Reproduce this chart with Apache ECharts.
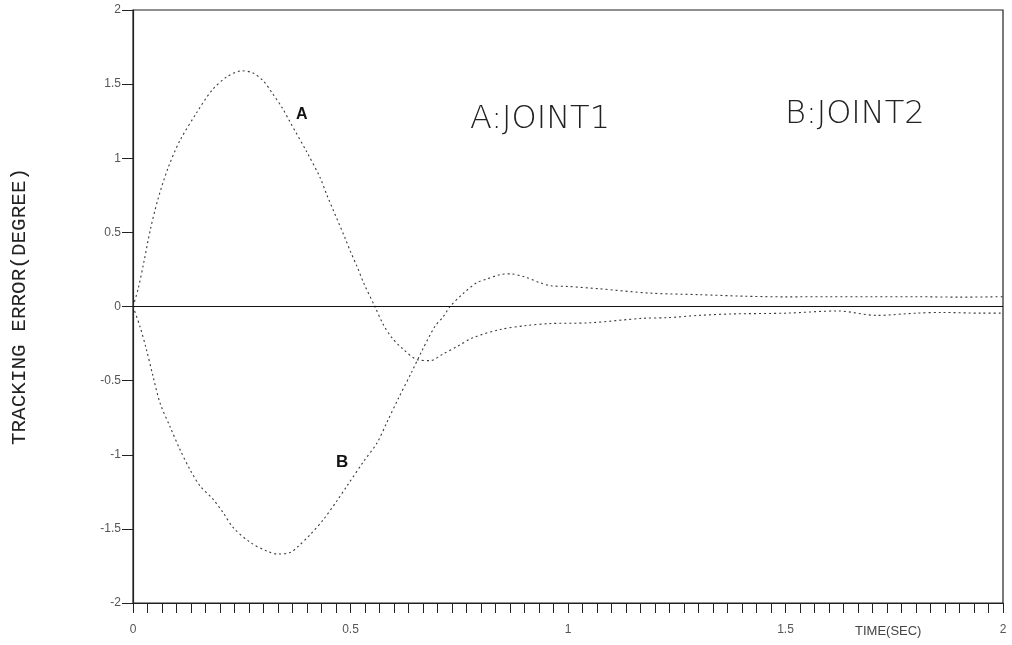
<!DOCTYPE html>
<html>
<head>
<meta charset="utf-8">
<script src="https://cdn.jsdelivr.net/npm/echarts@6/dist/echarts.min.js"></script>
<style>
html,body{margin:0;padding:0;background:#fff;}
#chart{width:1012px;height:645px;}
</style>
</head>
<body>
<div id="chart"></div>
<script>
// joint 1 tracking error (curve A)
var timeA = [0, 0.012, 0.025, 0.04, 0.057, 0.08, 0.108, 0.147, 0.182, 0.216, 0.25, 0.276, 0.30, 0.32, 0.343, 0.36, 0.40, 0.43, 0.446, 0.487, 0.50, 0.515, 0.53, 0.556, 0.575, 0.595, 0.618, 0.655, 0.683, 0.713, 0.745, 0.782, 0.844, 0.90, 0.96, 1.05, 1.17, 1.23, 1.3, 1.38, 1.5, 1.62, 1.71, 1.8, 1.86, 1.95, 2.0];
var errA = [0, 0.12, 0.3, 0.52, 0.72, 0.93, 1.12, 1.31, 1.46, 1.55, 1.59, 1.575, 1.52, 1.44, 1.34, 1.25, 1.04, 0.87, 0.75, 0.465, 0.37, 0.27, 0.16, 0, -0.12, -0.21, -0.28, -0.36, -0.365, -0.32, -0.27, -0.21, -0.155, -0.13, -0.115, -0.11, -0.08, -0.075, -0.06, -0.05, -0.045, -0.03, -0.06, -0.045, -0.04, -0.045, -0.045];
// joint 2 tracking error (curve B)
var timeB = [0, 0.016, 0.03, 0.046, 0.062, 0.085, 0.108, 0.131, 0.154, 0.184, 0.207, 0.23, 0.269, 0.308, 0.333, 0.361, 0.379, 0.407, 0.437, 0.469, 0.492, 0.529, 0.561, 0.584, 0.61, 0.641, 0.664, 0.694, 0.713, 0.729, 0.76, 0.79, 0.813, 0.844, 0.867, 0.90, 0.936, 0.96, 1.0, 1.07, 1.19, 1.3, 1.4, 1.5, 1.6, 1.7, 1.8, 1.9, 2.0];
var errB = [0, -0.135, -0.28, -0.47, -0.65, -0.81, -0.965, -1.1, -1.21, -1.30, -1.39, -1.49, -1.59, -1.65, -1.67, -1.66, -1.62, -1.54, -1.44, -1.31, -1.21, -1.05, -0.92, -0.78, -0.62, -0.44, -0.30, -0.135, -0.07, 0, 0.09, 0.16, 0.185, 0.215, 0.22, 0.2, 0.16, 0.14, 0.135, 0.12, 0.09, 0.08, 0.07, 0.065, 0.066, 0.066, 0.066, 0.063, 0.066];

var pairs = function(xs, ys){
    var out = [];
    for (var i = 0; i < xs.length; i++) out.push([xs[i], ys[i]]);
    return out;
};

var chart = echarts.init(document.getElementById('chart'));
var lineStyle = {color:'#3a3a3a', width:1.1, type:[2,3]};
var option = {
    animation:false,
    grid:{left:133, right:9, top:10, bottom:42, show:true, borderColor:'#222', borderWidth:1.2},
    xAxis:{
        type:'value', min:0, max:2, interval:0.5,
        axisLine:{onZero:false, lineStyle:{color:'#222', width:1.2}},
        axisTick:{show:true, inside:false, length:10, lineStyle:{color:'#222'}},
        minorTick:{show:true, splitNumber:15, length:10, lineStyle:{color:'#222'}},
        splitLine:{show:false},
        axisLabel:{color:'#555', fontSize:12, fontFamily:'Liberation Sans', margin:21,
            formatter:function(v){ return v === 0 ? '0' : String(v); }}
    },
    yAxis:{
        type:'value', min:-2, max:2, interval:0.5,
        name:'TRACKING ERROR(DEGREE)', nameLocation:'middle', nameGap:103, nameRotate:90,
        nameTextStyle:{fontFamily:'Liberation Mono', fontSize:21, color:'#222'},
        axisLine:{lineStyle:{color:'#222', width:1.2}},
        axisTick:{show:true, length:11, lineStyle:{color:'#222'}},
        splitLine:{show:false},
        axisLabel:{color:'#555', fontSize:12, fontFamily:'Liberation Sans', margin:12}
    },
    series:[
        {name:'A', type:'line', data:pairs(timeA, errA), showSymbol:false, smooth:0.3, lineStyle:lineStyle,
         markLine:{silent:true, symbol:'none', label:{show:false}, lineStyle:{color:'#111', type:'solid', width:1.2},
                   data:[{yAxis:0}]}},
        {name:'B', type:'line', data:pairs(timeB, errB), showSymbol:false, smooth:0.3, lineStyle:lineStyle}
    ],
    graphic:[
        {type:'text', left:296, top:107, style:{text:'A', font:'bold 16px "Liberation Sans"', fill:'#111'}},
        {type:'text', left:336, top:454, style:{text:'B', font:'bold 17px "Liberation Sans"', fill:'#111'}},
        {type:'text', left:470, top:104, style:{text:'A:JOINT1', font:'200 32px "DejaVu Sans"', fill:'#222'}},
        {type:'text', left:785, top:99, style:{text:'B:JOINT2', font:'200 32px "DejaVu Sans"', fill:'#222'}},
        {type:'text', left:855, top:625, style:{text:'TIME(SEC)', font:'13px "Liberation Sans"', fill:'#444'}}
    ]
};
chart.setOption(option);
</script>
</body>
</html>
